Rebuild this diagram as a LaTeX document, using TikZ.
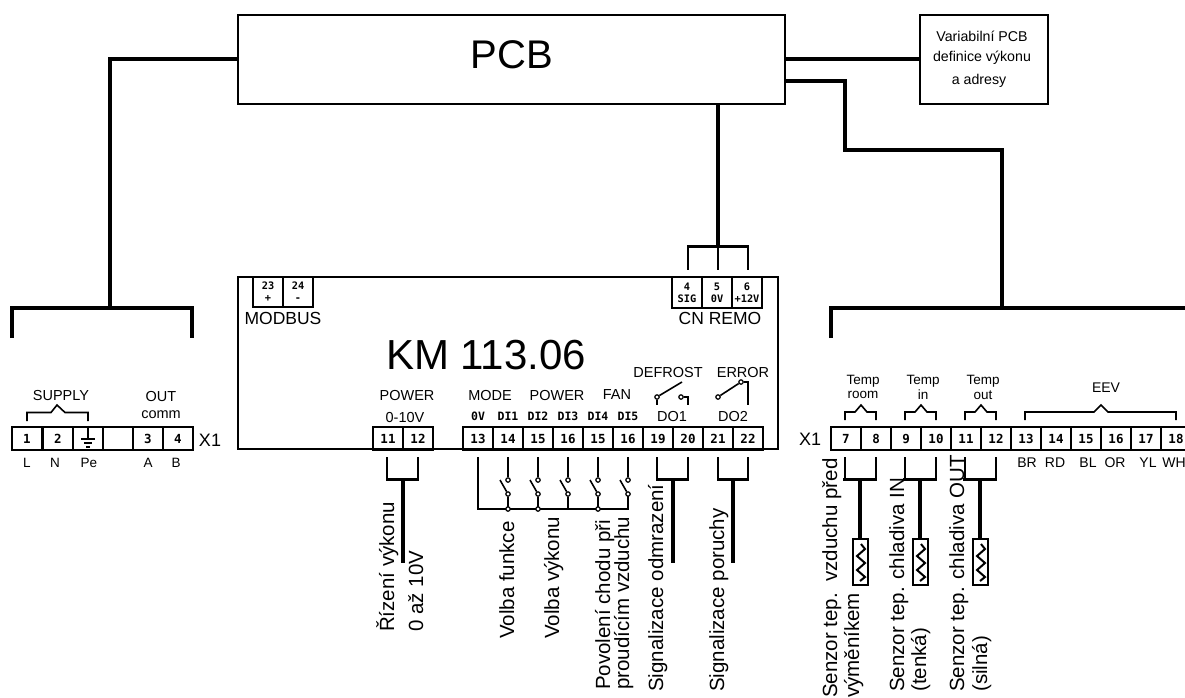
\documentclass[tikz,border=0pt]{standalone}
\usepackage{fontspec}
\setmainfont{Liberation Sans}
\newfontfamily\termfont{DejaVu Sans Mono}[BoldFont={DejaVu Sans Mono Bold}]
\usetikzlibrary{positioning}

\tikzset{
  box/.style={draw, line width=2.2pt, inner sep=0pt},
  term/.style={draw, line width=2.2pt, inner sep=0pt, minimum width=30pt, minimum height=23pt,
    text height=9pt, text depth=0pt,
    font=\termfont\bfseries\fontsize{12.5}{12}\selectfont},
  termtwo/.style={draw, line width=2.2pt, inner sep=0pt, minimum width=30pt, minimum height=30pt,
    align=center, font=\termfont\bfseries\fontsize{10.3}{12}\selectfont},
  monolbl/.style={inner sep=0pt, text height=8.5pt, text depth=0pt,
    font=\termfont\bfseries\fontsize{11.5}{12}\selectfont},
  lbl/.style={inner sep=0pt, font=\fontsize{14.5}{16}\selectfont},
  lblsmall/.style={inner sep=0pt, font=\fontsize{13}{15}\selectfont},
  lblbig/.style={inner sep=0pt, font=\fontsize{17.5}{20}\selectfont},
  vert/.style={rotate=90, anchor=base west, inner sep=0pt, font=\fontsize{20.5}{22}\selectfont},
  wire/.style={line width=4pt},
  thin wire/.style={line width=2pt},
  brace/.style={line width=1.6pt},
  dot/.style={circle, draw, fill=white, line width=1.2pt, inner sep=0pt, minimum size=4.4pt}
}

\begin{document}
\begin{tikzpicture}[x=1pt, y=-1pt]
  \clip (0,0) rectangle (1185,697);
  \fill [white] (0,0) rectangle (1185,697);

  % top boxes
  \node (pcb) [box, minimum width=547pt, minimum height=89pt] at (511.5,59.5) {};
  \node (pcbtext) [inner sep=0pt, font=\fontsize{40}{40}\selectfont] at (512,55) {PCB};
  \node (var) [box, minimum width=128pt, minimum height=89pt] at (984,59.5) {};
  \node (varone) [inner sep=0pt, font=\fontsize{14.2}{16}\selectfont] at (982,36) {Variabilní PCB};
  \node (vartwo) [inner sep=0pt, font=\fontsize{14.2}{16}\selectfont] at (982,58) {definice výkonu};
  \node (varthree) [inner sep=0pt, font=\fontsize{14.2}{16}\selectfont] at (979,81) {a adresy};

  % controller box
  \node (km) [box, minimum width=540pt, minimum height=172pt] at (508,363) {};
  \node (kmtext) [inner sep=0pt, font=\fontsize{42}{42}\selectfont] at (486,355) {KM 113.06};

  % left connector
  \foreach \n/\x/\t in {1/27/1, 2/58/2, 3/88/{}, 0/118/{}, 4/148/3, 5/178/4}
    \node (l\n) [term] at (\x,438.5) {\t};
  \node (xleft) [inner sep=0pt, font=\fontsize{18}{18}\selectfont] at (210,440) {X1};
  \foreach \t/\x in {L/27, N/55, Pe/89, A/148, B/176}
    \node (ll\t) [lbl, font=\fontsize{13.5}{15}\selectfont] at (\x,463) {\t};
  \node (supply) [lbl] at (61,395) {SUPPLY};
  \node (out) [lbl] at (161,396) {OUT};
  \node (comm) [lbl] at (161,415) {comm};
  \draw [brace] (27,421) -- (27,412.5) -- (51,412.5) -- (57,405) -- (65,412.5) -- (88,412.5) -- (88,421);
  % earth
  \draw [line width=1.5pt] (l3.north) -- (88,439);
  \draw [line width=1.7pt] (81,439) -- (95,439) (84,443) -- (92,443) (86,447) -- (90,447);

  % middle connector
  \foreach \n/\x/\t in {a/388/11, b/418/12, c/478/13, d/508/14, e/538/15, f/568/16,
      g/598/15, h/628/16, i/658/19, j/688/20, k/718/21, m/748/22}
    \node (m\n) [term] at (\x,438.5) {\t};

  \node (modp) [termtwo] at (268,292) {23\\+};
  \node (modm) [termtwo] at (298,292) {24\\-};
  \node (modbus) [lblbig] at (283,318) {MODBUS};
  \node (sig) [termtwo, minimum height=31pt] at (687,292.5) {4\\SIG};
  \node (zero) [termtwo, minimum height=31pt] at (717,292.5) {5\\0V};
  \node (twelve) [termtwo, minimum height=31pt] at (747,292.5) {6\\+12V};
  \node (remo) [lblbig] at (720,318) {CN REMO};

  \node (power) [lbl] at (407,395) {POWER};
  \node (volt) [lbl] at (405,417) {0-10V};
  \node (mode) [lbl] at (490,395) {MODE};
  \node (powertwo) [lbl] at (557,395) {POWER};
  \node (fan) [lbl] at (617,395) {FAN};
  \node (defrost) [lbl] at (668,372) {DEFROST};
  \node (error) [lbl] at (743,372) {ERROR};
  \node (doone) [lbl] at (672,416) {DO1};
  \node (dotwo) [lbl] at (733,416) {DO2};
  \foreach \t/\x in {0V/478, DI1/508, DI2/538, DI3/568, DI4/598, DI5/628}
    \node (t\t) [monolbl] at (\x,416) {\t};

  % relay contacts
  \node (doa) [dot] at (657,397) {};
  \node (dob) [dot] at (681,397) {};
  \node (dtwoa) [dot] at (718,397) {};
  \node (dtwob) [dot] at (741,382) {};
  \coordinate (blade) at (682,382);
  \draw [line width=1.6pt] (doa) -- (blade);
  \draw [line width=1.6pt] (doa) -- (657,405);
  \draw [line width=1.6pt] (dob) -- (688,397) -- (688,405);
  \draw [line width=1.6pt] (dtwoa) -- (dtwob);
  \draw [line width=1.6pt] (dtwob) -- (748,382) -- (748,405);

  % wires from the boards
  \coordinate (lefttop) at (110,308);
  \draw [wire] (pcb.west |- 0,59) -- (110,59) -- (lefttop);
  \draw [wire] (12,338) -- (12,308) -- (192,308) -- (192,338);
  \draw [wire, line width=3.2pt] (pcb.east |- 0,59) -- (var.west |- 0,59);
  \coordinate (righttop) at (1002,308);
  \draw [wire] (pcb.east |- 0,81) -- (845,81) -- (845,149.5) -- (1002,149.5) -- (righttop);
  \draw [wire] (831,338) -- (831,308) -- (1186,308);
  \coordinate (remotop) at (718,246);
  \draw [wire] (pcb.south -| remotop) -- (remotop);
  \draw [wire, line width=3pt] (687,246) -- (749,246);
  \draw [thin wire] (688,246) -- (688,270);
  \draw [thin wire] (718,246) -- (718,270);
  \draw [thin wire] (748,246) -- (748,270);

  % stubs under the outputs
  \foreach \a/\b/\c in {387/418/403, 657/688/673, 718/748/733} {
    \draw [thin wire] (\a,457) -- (\a,479);
    \draw [thin wire] (\b,457) -- (\b,479);
    \draw [line width=3pt] (\a-1,479) -- (\b+1,479);
    \draw [wire] (\c,479) -- (\c,563);
  }

  % digital inputs
  \draw [line width=1.8pt] (478,457) -- (478,509) -- (628,509) -- (628,494);
  \foreach \x in {508,538,568,598,628} {
    \node (up\x) [dot] at (\x,480) {};
    \node (dn\x) [dot] at (\x,494) {};
    \draw [line width=1.8pt] (\x,457) -- (up\x);
    \draw [line width=1.6pt] (\x-8,480) -- (dn\x);
    \draw [line width=1.8pt] (dn\x) -- (\x,509);
  }
  \foreach \x in {508,538,598}
    \node (bus\x) [dot] at (\x,509) {};

  % right connector
  \node (xright) [inner sep=0pt, font=\fontsize{18}{18}\selectfont] at (810,439) {X1};
  \foreach \n/\x/\t in {a/846/7, b/876/8, c/906/9, d/936/10, e/966/11, f/996/12,
      g/1026/13, h/1056/14, i/1086/15, j/1116/16, k/1146/17, m/1176/18}
    \node (r\n) [term] at (\x,438.5) {\t};
  \foreach \t/\x in {BR/1027, RD/1055, BL/1088, OR/1115, YL/1148, WH/1174}
    \node (rl\t) [lblsmall, font=\fontsize{14}{15}\selectfont] at (\x,463) {\t};
  \foreach \n/\x/\t in {room/863/room, in/923/in, out/983/out} {
    \node (temp\n) [lblsmall, font=\fontsize{13.5}{15}\selectfont] at (\x,381) {Temp};
    \node (sub\n) [lblsmall, font=\fontsize{13.5}{15}\selectfont] at (\x,395) {\t};
  }
  \node (eev) [lblsmall, font=\fontsize{14}{15}\selectfont] at (1106,388) {EEV};
  \foreach \x in {845,905,965}
    \draw [brace] (\x,420) -- (\x,412) -- (\x+10,412) -- (\x+16,405) -- (\x+22,412) -- (\x+31,412) -- (\x+31,420);
  \draw [brace] (1025,420) -- (1025,412) -- (1094,412) -- (1101,405) -- (1108,412) -- (1176,412) -- (1176,420);

  % sensors
  \foreach \x in {845,905,965} {
    \draw [thin wire] (\x,457) -- (\x,479);
    \draw [thin wire] (\x+31,457) -- (\x+31,479);
    \draw [line width=3pt] (\x-2,479) -- (\x+32,479);
    \draw [wire] (\x+15,479) -- (\x+15,539);
    \node (sens\x) [draw, line width=2.2pt, minimum width=15pt, minimum height=46pt, inner sep=0pt]
      at (\x+15.5,562) {};
    \draw [line width=2pt] (\x+16,544) -- (\x+20,549) -- (\x+12,556) -- (\x+20,563)
      -- (\x+12,570) -- (\x+20,577) -- (\x+15,581);
  }

  % vertical texts
  \node (rizeni) [vert] at (394,632) {Řízení výkonu};
  \node (azten) [vert] at (423,632) {0 až 10V};
  \node (funkce) [vert] at (514,639) {Volba funkce};
  \node (vykon) [vert] at (559,639) {Volba výkonu};
  \node (povol) [vert] at (610,690) {Povolení chodu při};
  \node (proud) [vert] at (629,690) {proudícím vzduchu};
  \node (odmraz) [vert] at (663,692) {Signalizace odmrazení};
  \node (poruch) [vert] at (724,692) {Signalizace poruchy};
  \node (senzvz) [vert] at (837,698) {Senzor tep.~~vzduchu před};
  \node (vymen) [vert] at (859,698) {výměníkem};
  \node (senzin) [vert] at (904,692) {Senzor tep. chladiva IN};
  \node (tenka) [vert] at (926,692) {(tenká)};
  \node (senzout) [vert] at (964,692) {Senzor tep. chladiva OUT};
  \node (silna) [vert] at (987,692) {(silná)};
\end{tikzpicture}
\end{document}
